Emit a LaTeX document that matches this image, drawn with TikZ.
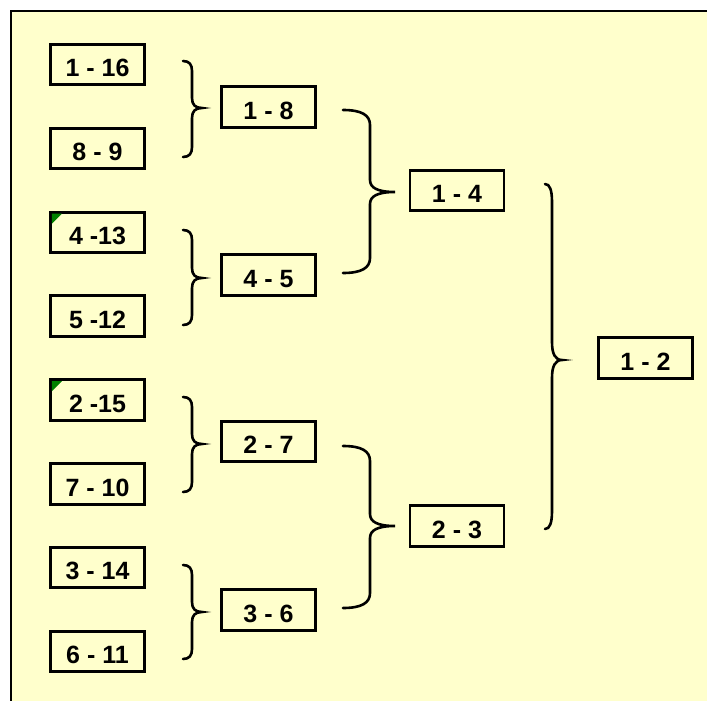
\documentclass[tikz,border=0pt]{standalone}
\usepackage{fontspec}
\setmainfont{Liberation Sans}
\definecolor{bgyellow}{HTML}{FFFFCC}
\definecolor{cornergreen}{HTML}{008000}
\tikzset{
  seed/.style={draw=black, line width=2.8pt, minimum width=94pt, minimum height=40.5pt,
    inner sep=0pt, outer sep=0pt, text height=24pt, text depth=0pt,
    font=\fontsize{25}{29}\selectfont\bfseries},
  bracestyle/.style={draw=black, line width=2.6pt, line cap=round},
  framestyle/.style={draw=black, line width=2.8pt}
}
\newcommand\bbrace[8]{%
  \draw[bracestyle] (#1,#4) .. controls ({#1+0.7*(#2-#1)},#4) and (#2,{#4+0.35*#7}) .. (#2,{#4+#7})
    -- (#2,{#5-#8}) .. controls (#2,{#5-0.35*#8}) and ({#2+0.3*(#3-#2)},#5) .. (#3,#5)
    .. controls ({#2+0.3*(#3-#2)},#5) and (#2,{#5+0.35*#8}) .. (#2,{#5+#8})
    -- (#2,{#6-#7}) .. controls (#2,{#6-0.35*#7}) and ({#1+0.7*(#2-#1)},#6) .. (#1,#6);}
\begin{document}
\begin{tikzpicture}[x=1pt,y=-1pt]
\useasboundingbox (0,0) rectangle (707,701);
\fill[white] (0,0) rectangle (707,701);
\fill[bgyellow] (11,11) rectangle (707,701);
\draw[framestyle] (11,701) -- (11,11) -- (707,11);

% round 1
\node[seed] (a1) at (97.5,64.5) {1 - 16};
\node[seed] (a2) at (97.5,148.5) {8 - 9};
\node[seed] (a3) at (97.5,232.5) {4 -13};
\node[seed] (a4) at (97.5,316) {5 -12};
\node[seed] (a5) at (97.5,400) {2 -15};
\node[seed] (a6) at (97.5,484) {7 - 10};
\node[seed] (a7) at (97.5,567.5) {3 - 14};
\node[seed] (a8) at (97.5,651.5) {6 - 11};
% round 2
\node[seed] (b1) at (268.5,107) {1 - 8};
\node[seed] (b2) at (268.5,275) {4 - 5};
\node[seed] (b3) at (268.5,441.5) {2 - 7};
\node[seed] (b4) at (268.5,610) {3 - 6};
% round 3
\node[seed] (c1) at (457,190.5) {1 - 4};
\node[seed] (c2) at (457,526) {2 - 3};
% final
\node[seed] (d1) at (645.5,358) {1 - 2};

% corner marks
\fill[cornergreen] ([shift={(1.4,1.4)}]a3.north west) -- ++(10,0) -- ++(-10,10) -- cycle;
\fill[cornergreen] ([shift={(1.4,1.4)}]a5.north west) -- ++(10,0) -- ++(-10,10) -- cycle;

% braces
\bbrace{183}{192}{202}{61}{108}{157}{10}{10}
\bbrace{183}{192}{202}{230}{278}{325}{10}{10}
\bbrace{183}{192}{202}{397}{444}{492}{10}{10}
\bbrace{183}{192}{202}{565}{612}{659}{10}{10}
\bbrace{343}{370}{395}{110}{192}{273}{15}{12}
\bbrace{343}{370}{395}{446}{526}{608}{15}{12}
\bbrace{545}{552}{562}{184}{360}{529}{18}{18}
\end{tikzpicture}
\end{document}
